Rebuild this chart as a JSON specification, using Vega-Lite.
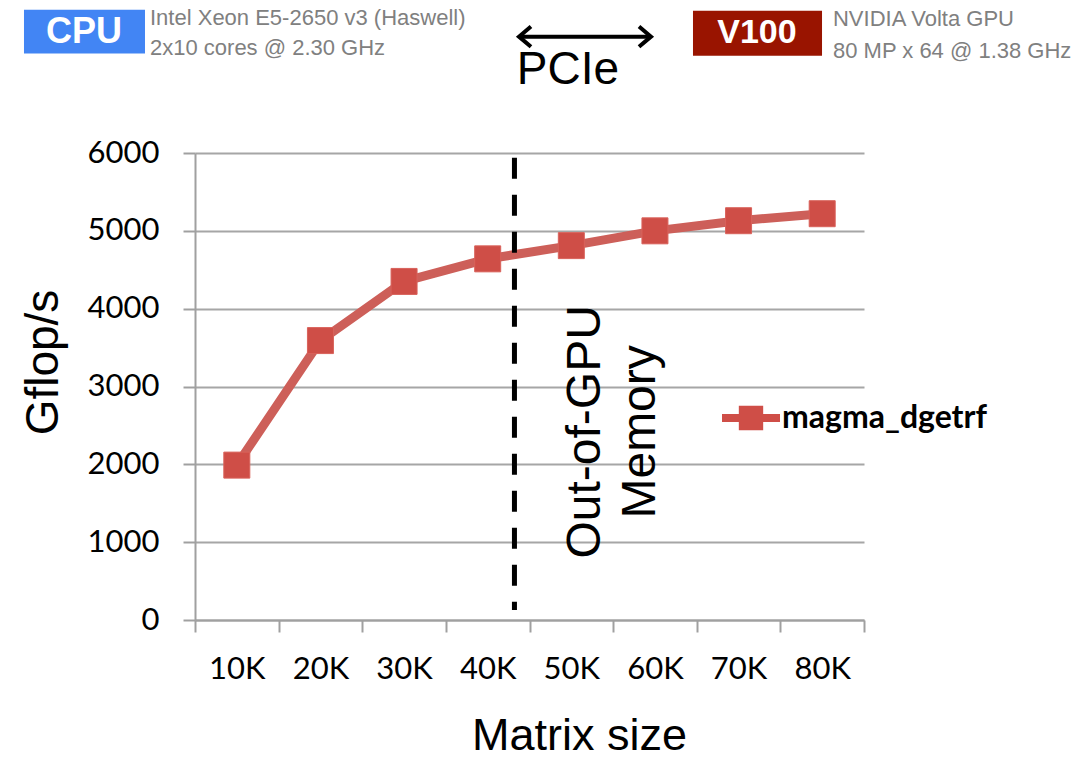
{
  "$schema": "https://vega.github.io/schema/vega-lite/v6.json",
  "width": 669,
  "height": 467,
  "autosize": {"type": "none"},
  "padding": {"left": 195, "top": 153, "right": 214, "bottom": 138},
  "background": "white",
  "config": {"view": {"stroke": null}, "font": "Liberation Sans"},
  "datasets": {
    "perf": [
      {"size_k": 10, "gflops": 1990, "series": "magma_dgetrf"},
      {"size_k": 20, "gflops": 3590, "series": "magma_dgetrf"},
      {"size_k": 30, "gflops": 4350, "series": "magma_dgetrf"},
      {"size_k": 40, "gflops": 4640, "series": "magma_dgetrf"},
      {"size_k": 50, "gflops": 4810, "series": "magma_dgetrf"},
      {"size_k": 60, "gflops": 5000, "series": "magma_dgetrf"},
      {"size_k": 70, "gflops": 5130, "series": "magma_dgetrf"},
      {"size_k": 80, "gflops": 5220, "series": "magma_dgetrf"}
    ]
  },
  "layer": [
    {
      "data": {"name": "perf"},
      "mark": {"type": "line", "color": "#CD5F59", "strokeWidth": 9},
      "encoding": {
        "x": {
          "field": "size_k", "type": "quantitative",
          "scale": {"domain": [5, 85], "nice": false, "zero": false},
          "axis": {
            "title": "Matrix size", "values": [5, 15, 25, 35, 45, 55, 65, 75, 85],
            "labelExpr": "datum.value >= 85 ? '' : (datum.value + 5) + 'K'",
            "labelOffset": 41.8, "labelFlush": false, "labelBound": false, "labelOverlap": false,
            "labelFont": "Lato", "labelFontSize": 31,
            "labelColor": "black", "labelPadding": 22, "tickSize": 12, "tickColor": "#A0A0A0",
            "tickWidth": 2, "domainColor": "#A0A0A0", "domainWidth": 2, "grid": false,
            "titleFont": "Liberation Sans", "titleFontSize": 45, "titleFontWeight": "normal",
            "titleColor": "black", "titleX": 384, "titleY": 129, "titleBaseline": "alphabetic"
          }
        },
        "y": {
          "field": "gflops", "type": "quantitative",
          "scale": {"domain": [0, 6000], "nice": false},
          "axis": {
            "title": "Gflop/s", "values": [0, 1000, 2000, 3000, 4000, 5000, 6000], "format": "d",
            "labelFont": "Lato", "labelFontSize": 31, "labelColor": "black", "labelPadding": 24,
            "tickSize": 12, "tickColor": "#A0A0A0", "tickWidth": 2,
            "domainColor": "#A0A0A0", "domainWidth": 2,
            "grid": true, "gridColor": "#A6A6A6", "gridWidth": 2,
            "titleFont": "Liberation Sans", "titleFontSize": 46, "titleFontWeight": "normal",
            "titleColor": "black", "titlePadding": 20, "titleY": 209
          }
        }
      }
    },
    {
      "data": {"values": [{}]},
      "mark": {"type": "rule", "stroke": "black", "strokeWidth": 5, "strokeDash": [21, 16], "clip": false},
      "encoding": {
        "x": {"datum": 43.2, "type": "quantitative", "scale": {"domain": [5, 85], "nice": false, "zero": false}},
        "y": {"datum": 5940, "type": "quantitative", "scale": {"domain": [0, 6000], "nice": false}},
        "y2": {"datum": 128}
      }
    },
    {
      "data": {"name": "perf"},
      "mark": {"type": "point", "shape": "square", "filled": true, "size": 676, "opacity": 1, "stroke": "#D9625B", "strokeWidth": 1},
      "encoding": {
        "x": {"field": "size_k", "type": "quantitative", "scale": {"domain": [5, 85], "nice": false, "zero": false}},
        "y": {"field": "gflops", "type": "quantitative", "scale": {"domain": [0, 6000], "nice": false}},
        "color": {
          "field": "series", "type": "nominal",
          "scale": {"range": ["#CF4E47"]},
          "legend": {
            "title": null, "orient": "none", "legendX": 527, "legendY": 236, "padding": 0,
            "symbolType": "M-1,-0.14H1V0.14H-1Z M-0.42,-0.42H0.42V0.42H-0.42Z",
            "symbolSize": 3364, "symbolStrokeWidth": 0, "symbolOpacity": 1,
            "labelFont": "Lato", "labelFontWeight": "bold", "labelFontSize": 32,
            "labelColor": "black", "labelOffset": 2, "labelLimit": 0
          }
        }
      }
    },
    {
      "data": {"values": [{}]},
      "mark": {"type": "text", "text": ["Out-of-GPU", "Memory"], "angle": 270, "align": "center", "baseline": "middle", "fontSize": 48, "lineHeight": 55, "color": "black", "font": "Liberation Sans", "clip": false},
      "encoding": {
        "x": {"datum": 51.7, "type": "quantitative", "scale": {"domain": [5, 85], "nice": false, "zero": false}},
        "y": {"datum": 2417, "type": "quantitative", "scale": {"domain": [0, 6000], "nice": false}}
      }
    },
    {
      "data": {"values": [{}]},
      "mark": {"type": "rect", "color": "#4285F4", "clip": false},
      "encoding": {
        "x": {"datum": -15.45, "type": "quantitative", "scale": {"domain": [5, 85], "nice": false, "zero": false}},
        "x2": {"datum": -0.98},
        "y": {"datum": 7842, "type": "quantitative", "scale": {"domain": [0, 6000], "nice": false}},
        "y2": {"datum": 7277}
      }
    },
    {
      "data": {"values": [{}]},
      "mark": {"type": "rect", "color": "#991400", "clip": false},
      "encoding": {
        "x": {"datum": 64.55, "type": "quantitative", "scale": {"domain": [5, 85], "nice": false, "zero": false}},
        "x2": {"datum": 79.98},
        "y": {"datum": 7829, "type": "quantitative", "scale": {"domain": [0, 6000], "nice": false}},
        "y2": {"datum": 7251}
      }
    },
    {
      "data": {"values": [{}]},
      "mark": {"type": "text", "text": "CPU", "font": "Liberation Sans", "fontWeight": "bold", "fontSize": 36, "color": "white", "align": "center", "baseline": "middle", "clip": false},
      "encoding": {
        "x": {"datum": -8.27, "type": "quantitative", "scale": {"domain": [5, 85], "nice": false, "zero": false}},
        "y": {"datum": 7559, "type": "quantitative", "scale": {"domain": [0, 6000], "nice": false}}
      }
    },
    {
      "data": {"values": [{}]},
      "mark": {"type": "text", "text": "V100", "font": "Liberation Sans", "fontWeight": "bold", "fontSize": 34, "color": "white", "align": "center", "baseline": "middle", "clip": false},
      "encoding": {
        "x": {"datum": 72.2, "type": "quantitative", "scale": {"domain": [5, 85], "nice": false, "zero": false}},
        "y": {"datum": 7540, "type": "quantitative", "scale": {"domain": [0, 6000], "nice": false}}
      }
    },
    {
      "data": {"values": [{}]},
      "mark": {"type": "text", "text": ["Intel Xeon E5-2650 v3 (Haswell)", "2x10 cores @ 2.30 GHz"], "font": "Liberation Sans", "fontSize": 22, "lineHeight": 30, "color": "#808080", "align": "left", "baseline": "middle", "clip": false},
      "encoding": {
        "x": {"datum": -0.38, "type": "quantitative", "scale": {"domain": [5, 85], "nice": false, "zero": false}},
        "y": {"datum": 7739, "type": "quantitative", "scale": {"domain": [0, 6000], "nice": false}}
      }
    },
    {
      "data": {"values": [{}]},
      "mark": {"type": "text", "text": ["NVIDIA Volta GPU", "80 MP x 64 @ 1.38 GHz"], "font": "Liberation Sans", "fontSize": 22, "lineHeight": 32, "color": "#808080", "align": "left", "baseline": "middle", "clip": false},
      "encoding": {
        "x": {"datum": 81.29, "type": "quantitative", "scale": {"domain": [5, 85], "nice": false, "zero": false}},
        "y": {"datum": 7726, "type": "quantitative", "scale": {"domain": [0, 6000], "nice": false}}
      }
    },
    {
      "data": {"values": [{}]},
      "mark": {"type": "rule", "stroke": "black", "strokeWidth": 4, "clip": false},
      "encoding": {
        "x": {"datum": 43.9, "type": "quantitative", "scale": {"domain": [5, 85], "nice": false, "zero": false}},
        "x2": {"datum": 59.4},
        "y": {"datum": 7495, "type": "quantitative", "scale": {"domain": [0, 6000], "nice": false}}
      }
    },
    {
      "data": {"values": [{}]},
      "mark": {"type": "point", "shape": "M1,-0.85L0,0L1,0.85", "size": 576, "filled": false, "stroke": "black", "strokeWidth": 4, "opacity": 1, "clip": false},
      "encoding": {
        "x": {"datum": 43.74, "type": "quantitative", "scale": {"domain": [5, 85], "nice": false, "zero": false}},
        "y": {"datum": 7495, "type": "quantitative", "scale": {"domain": [0, 6000], "nice": false}}
      }
    },
    {
      "data": {"values": [{}]},
      "mark": {"type": "point", "shape": "M-1,-0.85L0,0L-1,0.85", "size": 576, "filled": false, "stroke": "black", "strokeWidth": 4, "opacity": 1, "clip": false},
      "encoding": {
        "x": {"datum": 59.53, "type": "quantitative", "scale": {"domain": [5, 85], "nice": false, "zero": false}},
        "y": {"datum": 7495, "type": "quantitative", "scale": {"domain": [0, 6000], "nice": false}}
      }
    },
    {
      "data": {"values": [{}]},
      "mark": {"type": "text", "text": "PCIe", "font": "Liberation Sans", "fontSize": 46, "color": "black", "align": "center", "baseline": "middle", "clip": false},
      "encoding": {
        "x": {"datum": 49.6, "type": "quantitative", "scale": {"domain": [5, 85], "nice": false, "zero": false}},
        "y": {"datum": 7071, "type": "quantitative", "scale": {"domain": [0, 6000], "nice": false}}
      }
    }
  ]
}
